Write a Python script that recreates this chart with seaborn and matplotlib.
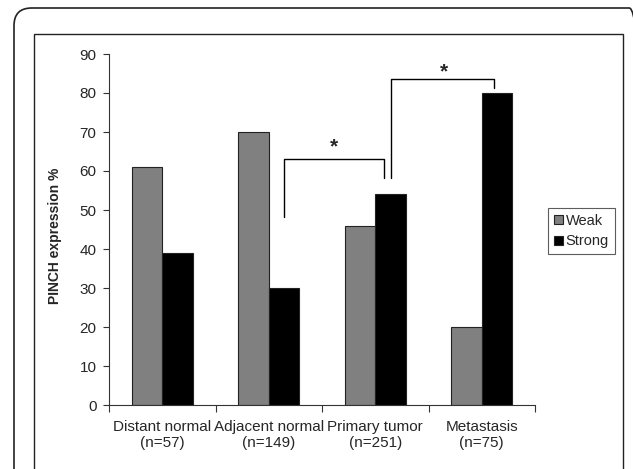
import matplotlib
matplotlib.use("Agg")
import matplotlib.pyplot as plt
import seaborn as sns
import pandas as pd
from matplotlib.patches import FancyBboxPatch, Rectangle

categories = ["Distant normal\n(n=57)", "Adjacent normal\n(n=149)", "Primary tumor\n(n=251)", "Metastasis\n(n=75)"]
weak = [61, 70, 46, 20]
strong = [39, 30, 54, 80]
series = ["Weak", "Strong"]
yticks = [0, 10, 20, 30, 40, 50, 60, 70, 80, 90]

df = pd.DataFrame({
    "cat": categories * 2,
    "val": weak + strong,
    "ser": ["Weak"] * 4 + ["Strong"] * 4,
})

sns.set_style("white")
plt.rcParams["font.family"] = ["Liberation Sans", "DejaVu Sans"]

fig = plt.figure(figsize=(6.33, 4.69), dpi=100)
ax = fig.add_axes([109/633, 1-405/469, 426/633, 351/469])

sns.barplot(data=df, x="cat", y="val", hue="ser", hue_order=series,
            palette={"Weak": "#808080", "Strong": "#000000"},
            width=0.573, edgecolor="#222222", linewidth=0.8, ax=ax, legend=True)

ax.set_ylim(0, 90)
ax.set_xlim(-0.5, 3.5)
ax.set_yticks(yticks)
ax.set_yticklabels([str(t) for t in yticks], fontsize=11)
ax.set_xticks(range(4))
ax.set_xticklabels(categories, fontsize=11, linespacing=1.12)
ax.set_xticks([-0.5, 0.5, 1.5, 2.5, 3.5], minor=True)
ax.tick_params(axis="x", which="major", length=0, pad=11)
ax.tick_params(axis="x", which="minor", length=5, width=0.8, color="#333333", direction="out", bottom=True)
ax.tick_params(axis="y", which="major", length=4, width=0.8, color="#333333", direction="out", left=True, pad=5)
ax.set_xlabel("")
ax.set_ylabel("PINCH expression %", fontsize=10, fontweight="bold")
ax.yaxis.set_label_coords(62/633, 1-236/469, transform=fig.transFigure)
for s in ["top", "right"]:
    ax.spines[s].set_visible(False)
for s in ["left", "bottom"]:
    ax.spines[s].set_color("#333333")
    ax.spines[s].set_linewidth(0.8)

# significance brackets
lw = 1.0
ax.plot([1.146, 1.146, 2.085, 2.085], [48.2, 63.1, 63.1, 58.2], color="black", lw=lw, clip_on=False)
ax.text(1.615, 66.2, "*", ha="center", va="center", fontsize=15, fontweight="bold")
ax.plot([2.150, 2.150, 3.117, 3.117], [58.2, 83.6, 83.6, 81.3], color="black", lw=lw, clip_on=False)
ax.text(2.648, 85.4, "*", ha="center", va="center", fontsize=15, fontweight="bold")

# legend
handles, labels = ax.get_legend_handles_labels()
leg = ax.legend(handles, labels, loc="upper left",
                bbox_to_anchor=(548/633, 1-208/469), bbox_transform=fig.transFigure,
                frameon=True, fancybox=False, fontsize=10.5, handlelength=0.6, handleheight=0.6,
                handletextpad=0.2, borderpad=0.4, labelspacing=0.45, borderaxespad=0)
leg.get_frame().set_edgecolor("#333333")
leg.get_frame().set_linewidth(0.8)

# frames
fig.patches.append(FancyBboxPatch((14/633, -0.1), 1.0, 1-8/469+0.1,
                                  boxstyle="round,pad=0,rounding_size=0.028",
                                  transform=fig.transFigure, fill=False,
                                  edgecolor="#222222", linewidth=1.2, mutation_aspect=633/469))
fig.patches.append(Rectangle((34/633, -0.1), 589/633, 1-34/469+0.1,
                             transform=fig.transFigure, fill=False,
                             edgecolor="#222222", linewidth=1.0))

fig.savefig("out.png", dpi=100)
